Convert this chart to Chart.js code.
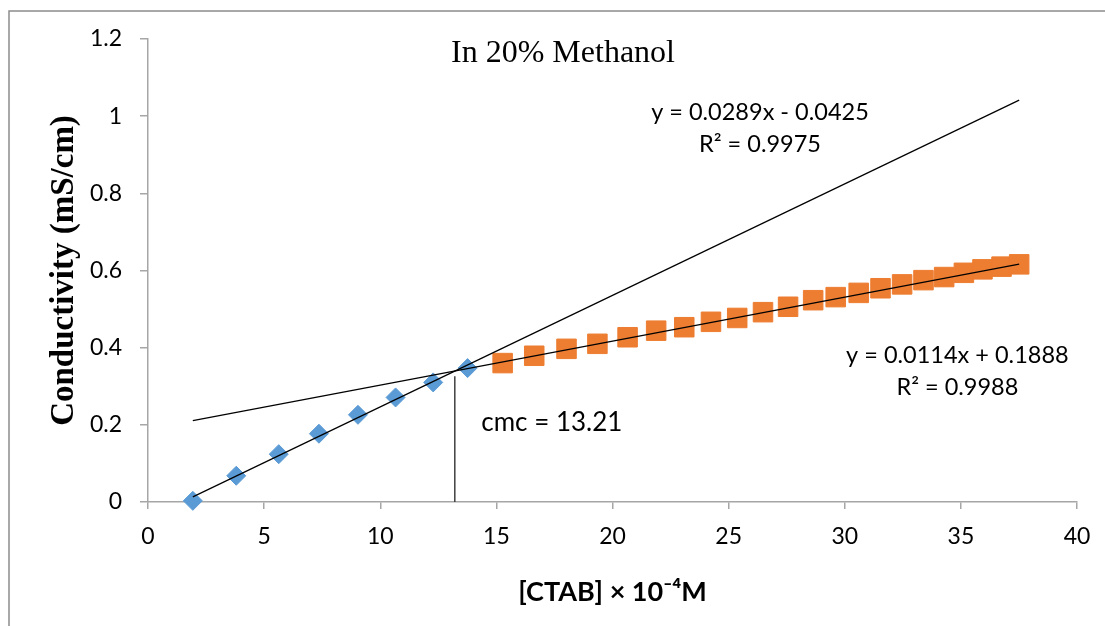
<!DOCTYPE html>
<html>
<head>
<meta charset="utf-8">
<script src="https://cdn.jsdelivr.net/npm/chart.js@4.4.0/dist/chart.umd.min.js"></script>
<style>
  html, body { margin: 0; padding: 0; background: #fff; }
  #wrap { width: 1105px; height: 626px; position: relative; }
</style>
</head>
<body>
<div id="wrap"><canvas id="cmc-chart"></canvas></div>
<script>
// Conductivity of CTAB in 20% methanol
const premicX = [1.93, 3.80, 5.63, 7.36, 9.04, 10.66, 12.28, 13.76];
const premicY = [0.003, 0.068, 0.124, 0.177, 0.226, 0.271, 0.310, 0.347];
const postmicX = [15.27, 16.63, 18.02, 19.35, 20.65, 21.88, 23.09, 24.24, 25.37, 26.48, 27.56,
                  28.64, 29.61, 30.60, 31.54, 32.47, 33.39, 34.28, 35.13, 35.93, 36.75, 37.51];
const postmicY = [0.360, 0.379, 0.397, 0.410, 0.427, 0.444, 0.453, 0.467, 0.477, 0.492, 0.506,
                  0.523, 0.531, 0.542, 0.554, 0.564, 0.575, 0.583, 0.594, 0.603, 0.610, 0.616];

// linear trendlines shown on the chart (slope, intercept) and their x span
const fitSlope = [0.0289, 0.0114];
const fitIntercept = [-0.0425, 0.1888];
const fitSpan = [1.93, 37.51];

const cmcValue = 13.21;
const cmcLineTop = 0.326;

const xTicks = [0, 5, 10, 15, 20, 25, 30, 35, 40];
const yTicks = [0, 0.2, 0.4, 0.6, 0.8, 1, 1.2];

const toPoints = (xs, ys) => xs.map((x, i) => ({ x: x, y: ys[i] }));
const trendPoints = k => fitSpan.map(x => ({ x: x, y: fitSlope[k] * x + fitIntercept[k] }));

const AXIS_GREY = '#a6a6a6';
const LABEL_FONT = 'Lato, "Open Sans", sans-serif';

// frame, chart title and the text boxes Excel put on the plot
const decorations = {
    id: 'decorations',
    beforeDraw(chart) {
        const ctx = chart.ctx;
        ctx.save();
        ctx.fillStyle = '#fff';
        ctx.fillRect(0, 0, chart.width, chart.height);
        ctx.strokeStyle = '#8c8c8c';
        ctx.lineWidth = 1.5;
        ctx.beginPath();
        ctx.moveTo(9, chart.height + 2);
        ctx.lineTo(9, 11);
        ctx.lineTo(chart.width + 2, 11);
        ctx.stroke();
        ctx.restore();
    },
    afterDatasetsDraw(chart) {
        const ctx = chart.ctx;
        const xs = chart.scales.x, ys = chart.scales.y;
        const px = v => xs.getPixelForValue(v);
        const py = v => ys.getPixelForValue(v);
        ctx.save();
        ctx.fillStyle = '#000';
        ctx.textBaseline = 'alphabetic';

        ctx.font = '32px "Liberation Serif", "Times New Roman", serif';
        ctx.textAlign = 'center';
        ctx.fillText('In 20% Methanol', 563, 62);

        ctx.font = '23.5px ' + LABEL_FONT;
        ctx.fillText('y = 0.0289x - 0.0425', px(26.35), py(0.990));
        ctx.fillText('R² = 0.9975', px(26.35), py(0.907));
        ctx.fillText('y = 0.0114x + 0.1888', px(34.85), py(0.360));
        ctx.fillText('R² = 0.9988', px(34.85), py(0.278));

        ctx.font = '26px ' + LABEL_FONT;
        ctx.textAlign = 'left';
        ctx.fillText('cmc = 13.21', px(14.35), py(0.183));
        ctx.restore();
    }
};

const chart = new Chart(document.getElementById('cmc-chart'), {
    type: 'scatter',
    data: {
        datasets: [
            {
                label: 'below cmc',
                data: toPoints(premicX, premicY),
                pointStyle: 'rectRot',
                pointRadius: 9.5,
                backgroundColor: '#5b9bd5',
                borderColor: '#5b9bd5',
                borderWidth: 1,
                clip: false,
                order: 2
            },
            {
                label: 'above cmc',
                data: toPoints(postmicX, postmicY),
                pointStyle: 'rect',
                pointRadius: 13.8,
                backgroundColor: '#ed7d31',
                borderColor: '#ed7d31',
                borderWidth: 1,
                clip: false,
                order: 2
            },
            {
                label: 'fit 1',
                type: 'line',
                data: trendPoints(0),
                borderColor: '#000',
                borderWidth: 1.2,
                pointRadius: 0,
                order: 1
            },
            {
                label: 'fit 2',
                type: 'line',
                data: trendPoints(1),
                borderColor: '#000',
                borderWidth: 1.2,
                pointRadius: 0,
                order: 1
            },
            {
                label: 'cmc',
                type: 'line',
                data: [{ x: cmcValue, y: 0 }, { x: cmcValue, y: cmcLineTop }],
                borderColor: '#404040',
                borderWidth: 1.5,
                pointRadius: 0,
                order: 1
            }
        ]
    },
    options: {
        responsive: true,
        maintainAspectRatio: false,
        animation: false,
        layout: { padding: { left: 0, top: 39, right: 28, bottom: 0 } },
        plugins: {
            legend: { display: false },
            tooltip: { enabled: false }
        },
        scales: {
            x: {
                type: 'linear',
                min: 0,
                max: 40,
                afterBuildTicks: s => { s.ticks = xTicks.map(v => ({ value: v })); },
                afterFit: s => { s.height = 124; },
                border: { color: AXIS_GREY, width: 1.5 },
                grid: { drawOnChartArea: false, color: AXIS_GREY, lineWidth: 1.5, tickLength: 7 },
                ticks: {
                    color: '#000',
                    padding: 14,
                    font: { family: LABEL_FONT, size: 23 },
                    maxRotation: 0,
                    callback: v => String(v)
                },
                title: {
                    display: true,
                    text: '[CTAB] × 10⁻⁴M',
                    color: '#000',
                    font: { family: LABEL_FONT, size: 27, weight: 'bold' },
                    padding: { top: 0, bottom: 18 }
                }
            },
            y: {
                type: 'linear',
                min: 0,
                max: 1.2,
                afterBuildTicks: s => { s.ticks = yTicks.map(v => ({ value: v })); },
                afterFit: s => { s.width = 148; },
                border: { color: AXIS_GREY, width: 1.5 },
                grid: { drawOnChartArea: false, color: AXIS_GREY, lineWidth: 1.5, tickLength: 8 },
                ticks: {
                    color: '#000',
                    padding: 18,
                    font: { family: LABEL_FONT, size: 23 },
                    callback: v => String(+v.toFixed(1))
                },
                title: {
                    display: true,
                    text: 'Conductivity (mS/cm)',
                    color: '#000',
                    font: { family: '"Liberation Serif", "Times New Roman", serif', size: 33, weight: 'bold' },
                    padding: { top: 45, bottom: 0 }
                }
            }
        }
    },
    plugins: [decorations]
});
</script>
</body>
</html>
